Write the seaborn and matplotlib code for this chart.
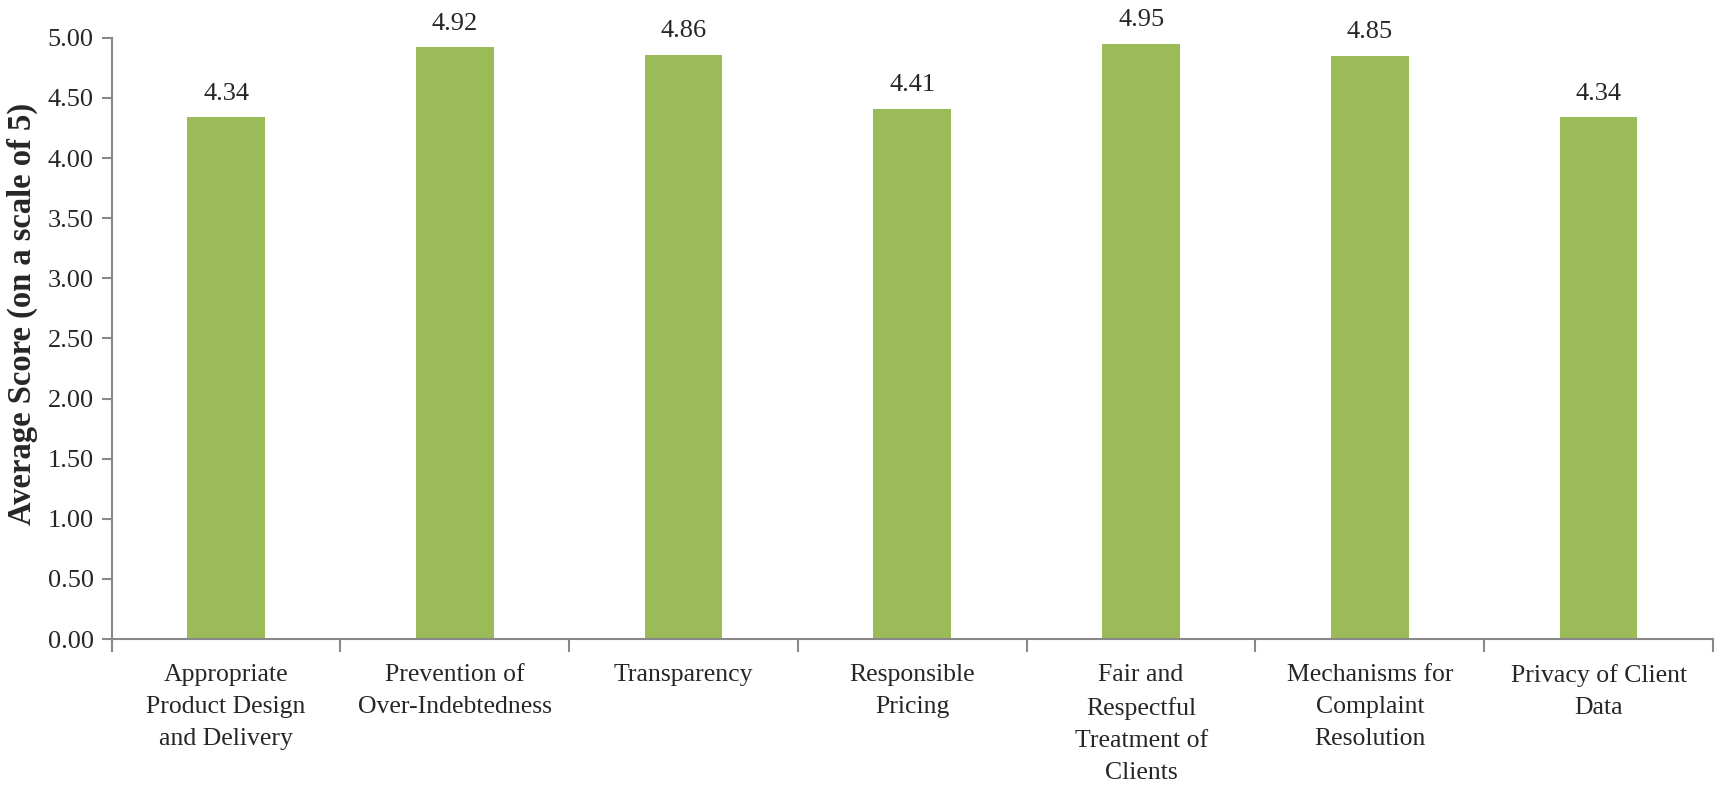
import matplotlib
matplotlib.use("Agg")
import matplotlib.pyplot as plt
import seaborn as sns
import pandas as pd
import numpy as np

categories = [
    "Appropriate\nProduct Design\nand Delivery",
    "Prevention of\nOver-Indebtedness",
    "Transparency",
    "Responsible\nPricing",
    "Fair and\nRespectful\nTreatment of\nClients",
    "Mechanisms for\nComplaint\nResolution",
    "Privacy of Client\nData",
]
scores = [4.34, 4.92, 4.86, 4.41, 4.95, 4.85, 4.34]
yticks = [0.0, 0.5, 1.0, 1.5, 2.0, 2.5, 3.0, 3.5, 4.0, 4.5, 5.0]

sns.set_style("white")
plt.rcParams['font.family'] = ['Liberation Serif', 'DejaVu Serif']

df = pd.DataFrame({"category": categories, "score": scores})

fig = plt.figure(figsize=(17.19, 7.87), dpi=100)
ax = fig.add_axes([0.065, 0.188, 0.9315, 0.764])

sns.barplot(data=df, x="category", y="score", color="#9BBB59", saturation=1,
            width=0.34, ax=ax, edgecolor="none")

ax.set_ylim(0, 5)
ax.set_xlim(-0.5, len(categories) - 0.5)
ax.set_yticks(yticks)
ax.set_yticklabels([f"{v:.2f}" for v in yticks], fontsize=19, family="Liberation Serif")
ax.set_xticks(range(len(categories)))
ax.set_xticklabels(categories, fontsize=18.5, linespacing=1.6, va="top", family="Liberation Serif")
ax.tick_params(axis="x", which="major", bottom=False, length=0, pad=18)
ax.tick_params(axis="y", length=7, width=1.5, color="#898989", direction="out", pad=6, left=True)

# Category boundary ticks (Excel style)
ax.set_xticks(np.arange(-0.5, len(categories), 1.0), minor=True)
ax.tick_params(axis="x", which="minor", bottom=True, length=9, width=1.5, color="#898989", direction="out")

for s in ["top", "right"]:
    ax.spines[s].set_visible(False)
for s in ["left", "bottom"]:
    ax.spines[s].set_color("#898989")
    ax.spines[s].set_linewidth(1.5)

ax.set_xlabel("")
ax.set_ylabel("Average Score (on a scale of 5)", fontsize=23.5, fontweight="bold", family="Liberation Serif")
ax.yaxis.set_label_coords(-0.046, 0.54)

for c in ax.containers:
    ax.bar_label(c, labels=[f"{v:.2f}" for v in scores], padding=9, fontsize=19, family="Liberation Serif")

fig.savefig("out.png", dpi=100)
